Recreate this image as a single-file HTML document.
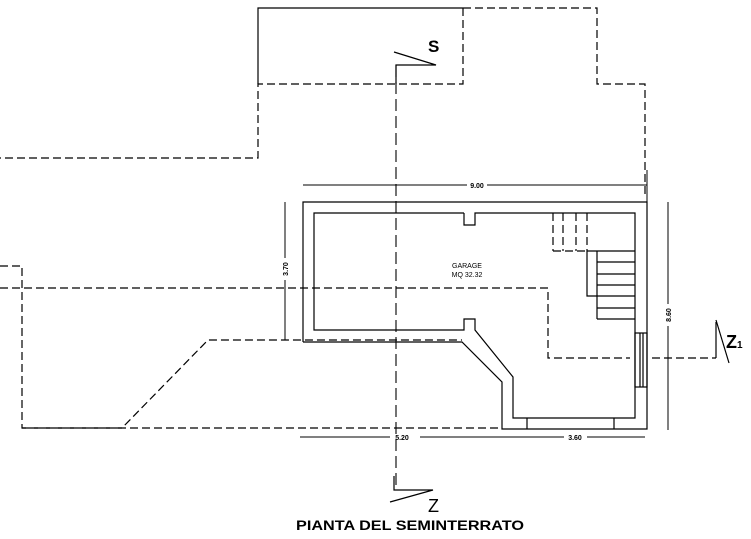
<!DOCTYPE html>
<html><head><meta charset="utf-8"><style>
html,body{margin:0;padding:0;background:#fff;width:751px;height:539px;overflow:hidden}
svg{display:block}
text{font-family:"Liberation Sans",Arial,sans-serif;fill:#000}
</style></head><body>
<svg width="751" height="539" viewBox="0 0 751 539" xmlns="http://www.w3.org/2000/svg">
<g fill="none" stroke="#000" stroke-width="1.2">
<polyline points="258,84 258,8 463,8"/>
</g>
<g fill="none" stroke="#000" stroke-width="1.2" stroke-dasharray="8,4">
<polyline points="463,8 463,84 258,84 258,158 0,158"/>
<polyline points="463,8 597,8 597,84 645,84 645,195"/>
<polyline points="0,288 548,288 548,358 630,358"/>
<polyline points="652,358 716,358"/>
<polyline points="0,266 22,266 22,428 122,428 208,340 303,340 462,340"/>
<polyline points="22,428 500,428"/>
<line x1="553" y1="213" x2="553" y2="251"/>
<line x1="563" y1="213" x2="563" y2="251"/>
<line x1="576" y1="213" x2="576" y2="251"/>
<line x1="587" y1="213" x2="587" y2="251"/>
<line x1="553" y1="251" x2="587" y2="251"/>
</g>
<g fill="none" stroke="#000" stroke-width="1.1" stroke-dasharray="12,5">
<line x1="396" y1="65" x2="396" y2="490"/>
</g>
<g fill="none" stroke="#000" stroke-width="1.2">
<polyline points="396,84 396,65 436,65 394,52"/>
<polyline points="394,476 394,490 433,490 390,502"/>
<polyline points="716,358 716,322"/>
<line x1="716" y1="320" x2="729" y2="363"/>
<polyline points="303,342 303,202 647,202 647,429 502,429 502,382 462,342 303,342"/>
<polyline points="464,213 314,213 314,330 464,330 464,319 475,319 475,330 513,377 513,418 635,418 635,213 475,213 475,225 464,225 464,213"/>
<line x1="527" y1="418" x2="527" y2="429"/>
<line x1="614" y1="418" x2="614" y2="429"/>
<rect x="635" y="333" width="12" height="54"/>
<line x1="640" y1="333" x2="640" y2="387"/>
<line x1="643" y1="333" x2="643" y2="387"/>
<polyline points="587,251 635,251"/>
<polyline points="587,251 587,296 635,296"/>
<line x1="597" y1="251" x2="597" y2="319"/>
<line x1="597" y1="262" x2="635" y2="262"/>
<line x1="597" y1="274" x2="635" y2="274"/>
<line x1="597" y1="285" x2="635" y2="285"/>
<line x1="597" y1="308" x2="635" y2="308"/>
<line x1="597" y1="319" x2="635" y2="319"/>
</g>
<g fill="none" stroke="#000" stroke-width="1">
<line x1="303" y1="185" x2="467" y2="185"/>
<line x1="487" y1="185" x2="647" y2="185"/>
<line x1="647" y1="170" x2="647" y2="202"/>
<line x1="285" y1="202" x2="285" y2="258"/>
<line x1="285" y1="280" x2="285" y2="340"/>
<line x1="668" y1="202" x2="668" y2="304"/>
<line x1="668" y1="326" x2="668" y2="430"/>
<line x1="300" y1="437" x2="390" y2="437"/>
<line x1="420" y1="437" x2="564" y2="437"/>
<line x1="587" y1="437" x2="645" y2="437"/>
</g>
<text x="477" y="188" font-size="7" font-weight="bold" text-anchor="middle">9.00</text>
<text x="402" y="440" font-size="7" font-weight="bold" text-anchor="middle">5.20</text>
<text x="575" y="440" font-size="7" font-weight="bold" text-anchor="middle">3.60</text>
<text transform="translate(288,269) rotate(-90)" font-size="7" font-weight="bold" text-anchor="middle">3.70</text>
<text transform="translate(671,315) rotate(-90)" font-size="7" font-weight="bold" text-anchor="middle">8.60</text>
<text x="467" y="268" font-size="7" text-anchor="middle">GARAGE</text>
<text x="467" y="277" font-size="7" text-anchor="middle">MQ 32.32</text>
<text x="428" y="52" font-size="17" font-weight="bold">S</text>
<text x="428" y="512" font-size="18">Z</text>
<text x="726" y="348" font-size="18" font-weight="bold">Z<tspan font-size="10">1</tspan></text>
<text x="410" y="530" font-size="13.5" font-weight="bold" text-anchor="middle" textLength="228" lengthAdjust="spacingAndGlyphs">PIANTA DEL SEMINTERRATO</text>
</svg>
</body></html>
